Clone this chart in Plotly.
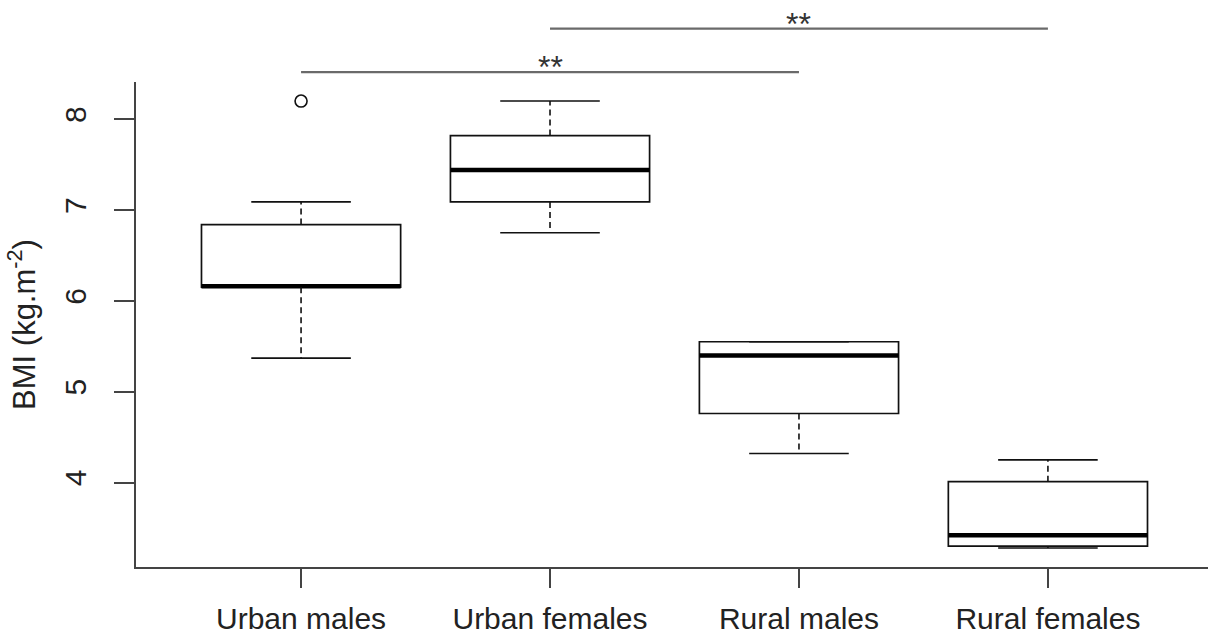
import plotly.graph_objects as go

# ---- data ----
categories = ["Urban males", "Urban females", "Rural males", "Rural females"]
lower_whisker = [5.37, 6.75, 4.32, 3.28]
q1 = [6.15, 7.09, 4.76, 3.30]
median = [6.16, 7.44, 5.40, 3.42]
q3 = [6.84, 7.82, 5.55, 4.01]
upper_whisker = [7.09, 8.20, 5.55, 4.25]
outlier_x = ["Urban males"]
outlier_y = [8.20]
y_ticks = [4, 5, 6, 7, 8]
comparisons = [("Urban males", "Rural males"), ("Urban females", "Rural females")]
comparison_labels = ["**", "**"]

FONT = "Liberation Sans, Arial, sans-serif"
BLACK = "#111111"
AXIS = "#444444"

fig = go.Figure()

# dashed whiskers (behind boxes)
wx, wy = [], []
for c, lo, a, b, hi in zip(categories, lower_whisker, q1, q3, upper_whisker):
    wx += [c, c, None, c, c, None]
    wy += [b, hi, None, a, lo, None]
fig.add_trace(go.Scatter(x=wx, y=wy, mode="lines",
                         line=dict(color=BLACK, width=1.6, dash="6px,4px"),
                         hoverinfo="skip", showlegend=False))

# boxes (Q1-Q3)
fig.add_trace(go.Box(x=categories, q1=q1, median=median, q3=q3,
                     lowerfence=q1, upperfence=q3, width=0.8, whiskerwidth=0,
                     fillcolor="white", line=dict(color=BLACK, width=1.7),
                     boxpoints=False, hoverinfo="skip", showlegend=False))

# thick medians
fig.add_trace(go.Box(x=categories, q1=median, median=median, q3=median,
                     lowerfence=median, upperfence=median, width=0.8, whiskerwidth=0,
                     fillcolor="rgba(0,0,0,0)", line=dict(color="black", width=4.5),
                     boxpoints=False, hoverinfo="skip", showlegend=False))

# whisker caps
for ends in (upper_whisker, lower_whisker):
    fig.add_trace(go.Box(x=categories, q1=ends, median=ends, q3=ends,
                         lowerfence=ends, upperfence=ends, width=0.4, whiskerwidth=0,
                         fillcolor="rgba(0,0,0,0)", line=dict(color=BLACK, width=1.6),
                         boxpoints=False, hoverinfo="skip", showlegend=False))

# outlier
fig.add_trace(go.Scatter(x=outlier_x, y=outlier_y, mode="markers",
                         marker=dict(symbol="circle-open", size=12, color=BLACK,
                                     line=dict(width=1.6)),
                         hoverinfo="skip", showlegend=False))

# significance brackets
bracket_y = [1.0205, 1.110]
for (a, b), lab, yy in zip(comparisons, comparison_labels, bracket_y):
    fig.add_shape(type="line", xref="x", yref="paper", x0=a, x1=b, y0=yy, y1=yy,
                  line=dict(color="#6a6a6a", width=2.2))
    mid = categories[(categories.index(a) + categories.index(b)) // 2]
    fig.add_annotation(xref="x", yref="paper", x=mid, y=yy + 0.0095, text=lab,
                       showarrow=False, yanchor="middle",
                       font=dict(family=FONT, size=32, color="#333333"))

fig.update_layout(
    width=1208, height=639,
    margin=dict(l=136, r=0, t=82, b=72),
    paper_bgcolor="white", plot_bgcolor="white",
    boxmode="overlay", showlegend=False,
    font=dict(family=FONT, color="#222222"),
)
fig.update_xaxes(type="category", categoryorder="array", categoryarray=categories,
                 range=[-0.663, 3.643], showgrid=False, zeroline=False,
                 showline=True, linecolor=AXIS, linewidth=2,
                 ticks="outside", ticklen=19, tickwidth=1.6, tickcolor=AXIS,
                 tickfont=dict(family=FONT, size=30, color="#222222"),
                 ticklabelstandoff=5)
fig.update_yaxes(range=[3.07, 8.41], tickvals=y_ticks, showgrid=False, zeroline=False,
                 showline=True, linecolor=AXIS, linewidth=2,
                 ticks="outside", ticklen=20, tickwidth=1.6, tickcolor=AXIS,
                 tickangle=-90, ticklabelstandoff=16,
                 tickfont=dict(family=FONT, size=30, color="#222222"),
                 title=dict(text="BMI (kg.m<sup>-2</sup>)", standoff=14,
                            font=dict(family=FONT, size=31, color="#222222")))

fig.write_html("out.html")
